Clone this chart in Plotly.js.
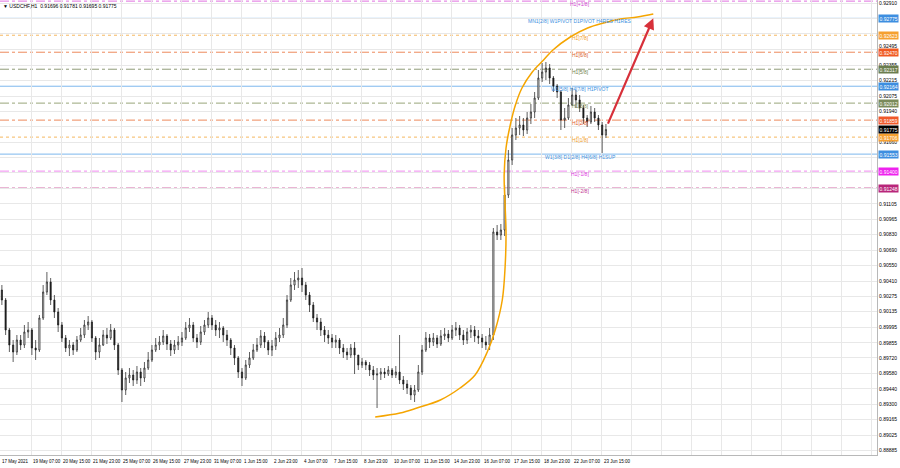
<!DOCTYPE html>
<html><head><meta charset="utf-8">
<script src="https://cdn.plot.ly/plotly-3.0.1.min.js"></script>
<style>html,body{margin:0;padding:0;background:#fff}#chart{width:900px;height:468px}</style>
</head><body><div id="chart"></div>
<script>
// ---- data: USDCHF H1, grouped read-out per 4 hourly bars (bar index 0 = 17 May 22:00) ----
const firstOpen = 0.90330;
const close = [
0.90240,0.89970,0.89835,0.89772,0.89880,0.89835,0.89952,0.89970,0.89808,0.89790,
0.90078,0.90312,0.90402,0.90240,0.90132,0.90015,0.89898,0.89808,0.89835,0.89790,
0.89880,0.89925,0.90015,0.90042,0.89898,0.89772,0.89835,0.89925,0.89898,0.89970,
0.89835,0.89610,0.89430,0.89538,0.89565,0.89520,0.89592,0.89538,0.89628,0.89700,
0.89790,0.89835,0.89862,0.89916,0.89844,0.89790,0.89835,0.89862,0.89898,0.89988,
0.90015,0.89898,0.89862,0.89952,0.90015,0.90078,0.90015,0.89970,0.89988,0.89925,
0.89880,0.89808,0.89718,0.89592,0.89538,0.89655,0.89718,0.89790,0.89835,0.89916,
0.89862,0.89790,0.89826,0.89898,0.89925,0.90015,0.90240,0.90375,0.90420,0.90438,
0.90375,0.90285,0.90195,0.90078,0.90042,0.89970,0.89925,0.89898,0.89862,0.89880,
0.89808,0.89772,0.89745,0.89808,0.89745,0.89655,0.89682,0.89655,0.89610,0.89565,
0.89574,0.89592,0.89574,0.89610,0.89565,0.89592,0.89520,0.89484,0.89448,0.89385,
0.89430,0.89592,0.89790,0.89898,0.89862,0.89898,0.89844,0.89916,0.89934,0.89898,
0.89970,0.89988,0.89925,0.89880,0.89952,0.89970,0.89916,0.89898,0.89862,0.89835,
0.89925,0.90852,0.90825,0.90870,0.91185,0.91500,0.91725,0.91788,0.91815,0.91770,
0.91878,0.91932,0.92058,0.92238,0.92292,0.92328,0.92238,0.92166,0.92112,0.91860,
0.91878,0.91995,0.92085,0.92040,0.91968,0.91878,0.91842,0.91932,0.91878,0.91815,
0.91725,0.91775];
const high = [
0.90375,0.90258,0.89988,0.89880,0.89925,0.89925,0.90015,0.90042,0.89988,0.89880,
0.90105,0.90375,0.90492,0.90438,0.90285,0.90168,0.90042,0.89925,0.89880,0.89862,
0.89916,0.89988,0.90060,0.90096,0.90060,0.89916,0.89898,0.89970,0.89988,0.90024,
0.89988,0.89853,0.89628,0.89592,0.89628,0.89610,0.89646,0.89628,0.89682,0.89772,
0.89835,0.89898,0.89916,0.89970,0.89934,0.89880,0.89880,0.89916,0.89952,0.90042,
0.90078,0.90042,0.89934,0.90006,0.90060,0.90132,0.90105,0.90060,0.90042,0.90006,
0.89970,0.89898,0.89835,0.89736,0.89628,0.89700,0.89772,0.89844,0.89898,0.89970,
0.89952,0.89880,0.89880,0.89952,0.89988,0.90078,0.90285,0.90438,0.90492,0.90510,
0.90528,0.90402,0.90312,0.90222,0.90114,0.90078,0.90006,0.89970,0.89934,0.89925,
0.89898,0.89844,0.89808,0.89844,0.89862,0.89745,0.89718,0.89700,0.89682,0.89646,
0.89628,0.89628,0.89628,0.89646,0.89628,0.89646,0.89925,0.89556,0.89520,0.89475,
0.89475,0.89655,0.89835,0.89952,0.89934,0.89943,0.89925,0.89970,0.89988,0.89970,
0.90015,0.90042,0.90015,0.89970,0.89988,0.90015,0.90006,0.89970,0.89934,0.89916,
0.89988,0.90888,0.90915,0.90924,0.91275,0.91590,0.91788,0.91878,0.91896,0.91878,
0.91932,0.92004,0.92112,0.92310,0.92373,0.92382,0.92364,0.92256,0.92184,0.92130,
0.91968,0.92058,0.92148,0.92130,0.92085,0.91995,0.91905,0.91986,0.91968,0.91905,
0.91842,0.91824];
const low = [
0.90195,0.89925,0.89772,0.89682,0.89745,0.89790,0.89808,0.89898,0.89745,0.89700,
0.89772,0.90060,0.90285,0.90195,0.90078,0.89952,0.89862,0.89772,0.89736,0.89745,
0.89772,0.89862,0.89898,0.89970,0.89862,0.89700,0.89718,0.89826,0.89844,0.89880,
0.89790,0.89565,0.89322,0.89385,0.89493,0.89466,0.89484,0.89466,0.89502,0.89610,
0.89682,0.89772,0.89790,0.89835,0.89790,0.89736,0.89754,0.89790,0.89826,0.89880,
0.89952,0.89862,0.89808,0.89835,0.89925,0.89988,0.89970,0.89916,0.89898,0.89862,
0.89826,0.89745,0.89655,0.89538,0.89466,0.89520,0.89628,0.89700,0.89772,0.89808,
0.89808,0.89745,0.89736,0.89790,0.89862,0.89898,0.89988,0.90222,0.90330,0.90348,
0.90312,0.90240,0.90132,0.90042,0.89970,0.89916,0.89862,0.89844,0.89808,0.89808,
0.89754,0.89718,0.89700,0.89718,0.89574,0.89610,0.89628,0.89610,0.89556,0.89520,
0.89268,0.89520,0.89538,0.89556,0.89538,0.89538,0.89484,0.89430,0.89394,0.89340,
0.89322,0.89412,0.89565,0.89772,0.89808,0.89826,0.89808,0.89826,0.89880,0.89862,
0.89880,0.89916,0.89880,0.89835,0.89844,0.89898,0.89862,0.89844,0.89808,0.89790,
0.89790,0.89880,0.90780,0.90780,0.90816,0.91158,0.91455,0.91680,0.91725,0.91716,
0.91734,0.91824,0.91878,0.92040,0.92202,0.92220,0.92184,0.92112,0.92058,0.91770,
0.91788,0.91860,0.91986,0.91968,0.91932,0.91824,0.91797,0.91824,0.91842,0.91770,
0.91563,0.91698];
const hoursPerBar = 4;

// x axis labels (bar index of each label, hourly)
const xLabels = ['17 May 2021','19 May 07:00','20 May 15:00','21 May 23:00','25 May 07:00','26 May 15:00',
 '27 May 23:00','31 May 07:00','1 Jun 15:00','2 Jun 23:00','4 Jun 07:00','7 Jun 15:00','8 Jun 23:00',
 '10 Jun 07:00','11 Jun 15:00','14 Jun 23:00','16 Jun 07:00','17 Jun 15:00','18 Jun 23:00','22 Jun 07:00','23 Jun 15:00'];
const xLabelIdx = [0,33,65,97,129,161,193,225,257,289,321,353,385,417,449,481,513,545,577,609,641];
const xGridIdx = [33,65,97,129,161,193,225,257,289,321,353,385,417,449,481,513,545,577,609,641,673,705,737,769,801,833,865,897,929];

// price scale (ticks hidden under the level boxes in the reference carry no text)
const yTickVals = [0.92910,0.92770,0.92635,0.92495,0.92355,0.92215,0.92075,0.91940,0.91800,0.91660,
 0.91520,0.91385,0.91245,0.91105,0.90965,0.90830,0.90690,0.90550,0.90410,0.90275,0.90135,
 0.89995,0.89855,0.89720,0.89580,0.89440,0.89300,0.89165,0.89025,0.88885];
const yTickText = ['0.92910','','','','0.92355','0.92215','0.92075','0.91940','','0.91660',
 '','','','0.91105','0.90965','0.90830','0.90690','0.90550','0.90410','0.90275','0.90135',
 '0.89995','0.89855','0.89720','0.89580','0.89440','0.89300','0.89165','0.89025','0.88885'];
const raisedTick = [0.92495, '0.92495'];   // sits just above the 6/8 box

// Murrey levels
const levelValues = [0.92930,0.92775,0.92623,0.92470,0.92317,0.92164,0.92012,0.91859,0.91706,0.91553,0.91400,0.91248];
const levelNames = ['H1[+1/8]','MN1[2/8] W1PIVOT D1PIVOT H4RES H1RES','H1[7/8]','H1[6/8]','H1[5/8]',
 'W1[5/8] H4[7/8] H1PIVOT','H1[3/8]','H1[2/8]','H1[1/8]','W1[3/8] D1[2/8] H4[6/8] H1SUP','H1[-1/8]','H1[-2/8]'];
const levelPriceText = ['','0.92775','0.92623','0.92470','0.92317','0.92164','0.92012','0.91859','0.91706','0.91553','0.91400','0.91248'];
const currentPrice = 0.91775;
const titleText = 'USDCHF,H1&nbsp;&nbsp;0.91696 0.91781 0.91695 0.91775';

// hand-drawn analysis (bar index, price)
const curveIdx = [399.5,426,444,469,490,506,519,527.5,535,538,539,538,537,539,543.5,549,556,567,579,589,607.5,626,643,661,679,696];
const curvePrice = [0.89187,0.89223,0.89268,0.89340,0.89448,0.89565,0.89772,0.89970,0.90240,0.90537,0.90843,0.91095,
 0.91365,0.91608,0.91815,0.91995,0.92148,0.92292,0.92400,0.92490,0.92607,0.92688,0.92733,0.92769,0.92787,0.92814];
const arrowFrom = [647, 0.91814];
const arrowTo = [696, 0.92775];

// ---- styles ----
const FONT = 'Liberation Sans, Arial, sans-serif';
const lineColors = ['#e070e0','#7db8ee','#f5b860','#ee8a5c','#8f9c78','#7db8ee','#98a67a','#ee8a5c','#f5b860','#7db8ee','#f08af0','#d46aa8'];
const lineDash = ['dashdot','solid','dot','dashdot','dashdot','solid','dashdot','dashdot','dot','solid','dashdot','dashdot'];
const textColors = ['#d040d0','#3c8fe0','#f09a28','#d8602c','#6f7f4e','#3c8fe0','#7d8c55','#e0582a','#f09a28','#3c8fe0','#e030e0','#c03090'];
const boxColors = ['','#3d8ee0','#f5a030','#f05a22','#6b7d4e','#3d8ee0','#7a8a5a','#f0582a','#f5a030','#3d8ee0','#ee22ee','#b8267a'];

const x = close.map((_, k) => hoursPerBar * k + (hoursPerBar - 1) / 2);
const open = [firstOpen].concat(close.slice(0, -1));

const traces = [
  {type:'candlestick', x:x, open:open, high:high, low:low, close:close,
   increasing:{line:{color:'#1a1a1a', width:0.7}, fillcolor:'#ffffff'},
   decreasing:{line:{color:'#1a1a1a', width:0.7}, fillcolor:'#1a1a1a'},
   whiskerwidth:0, hoverinfo:'skip', showlegend:false},
  {type:'scatter', mode:'lines', x:curveIdx, y:curvePrice,
   line:{color:'#f5a500', width:1.5, shape:'spline', smoothing:1}, hoverinfo:'skip', showlegend:false}
];

const shapes = levelValues.map((v, i) => ({type:'line', xref:'paper', x0:0, x1:1, yref:'y', y0:v, y1:v,
  line:{color:lineColors[i], width:1, dash:lineDash[i]}, layer:'below'}));

const annotations = [];
levelValues.forEach((v, i) => {
  annotations.push({xref:'x', yref:'y', x:618, y:v, text:levelNames[i], showarrow:false,
    xanchor:'center', yanchor:'middle', yshift:-3, font:{family:FONT, size:5, color:textColors[i]}});
  if (levelPriceText[i]) annotations.push({xref:'paper', yref:'y', x:1, y:v, text:levelPriceText[i], showarrow:false,
    xanchor:'left', yanchor:'middle', xshift:1, bgcolor:boxColors[i], borderpad:0.5,
    font:{family:FONT, size:5, color:'#ffffff'}});
});
annotations.push({xref:'paper', yref:'y', x:1, y:raisedTick[0], text:raisedTick[1], showarrow:false,
  xanchor:'left', yanchor:'bottom', xshift:1, yshift:-1, borderpad:0, font:{family:FONT, size:5, color:'#000000'}});
annotations.push({xref:'paper', yref:'y', x:1, y:currentPrice, text:'0.91775', showarrow:false,
  xanchor:'left', yanchor:'middle', xshift:1, bgcolor:'#000000', borderpad:0.5, font:{family:FONT, size:5, color:'#ffffff'}});
xLabels.forEach((t, i) => annotations.push({xref:'x', yref:'paper', x:xLabelIdx[i], y:0, text:t, showarrow:false,
  xanchor:'left', yanchor:'top', yshift:-2, font:{family:FONT, size:4.5, color:'#000000'}}));
annotations.push({xref:'paper', yref:'paper', x:0, y:1, text:'▼ ' + titleText, showarrow:false,
  xanchor:'left', yanchor:'top', xshift:1, yshift:-1, font:{family:FONT, size:5, color:'#000000'}});
annotations.push({xref:'x', yref:'y', axref:'x', ayref:'y', x:arrowTo[0], y:arrowTo[1], ax:arrowFrom[0], ay:arrowFrom[1],
  text:'', showarrow:true, arrowhead:2, arrowsize:1, arrowwidth:2.2, arrowcolor:'#d7303a'});

const layout = {
  width:900, height:468, margin:{l:0, r:23, t:0, b:13, pad:0},
  paper_bgcolor:'#ffffff', plot_bgcolor:'#ffffff', showlegend:false, boxgap:0.55,
  xaxis:{range:[-0.5, 934.5], rangeslider:{visible:false}, tickmode:'array', tickvals:xGridIdx,
    showticklabels:false, showgrid:true, gridcolor:'#e8e8e8', gridwidth:1, zeroline:false,
    showline:true, linecolor:'#b8b8b8', mirror:true, ticks:''},
  yaxis:{range:[0.88845, 0.92940], side:'right', tickmode:'array', tickvals:yTickVals, ticktext:yTickText,
    tickfont:{family:FONT, size:5, color:'#000000'}, showgrid:true, gridcolor:'#e8e8e8', gridwidth:1,
    zeroline:false, showline:true, linecolor:'#b8b8b8', mirror:true, ticks:''},
  shapes:shapes, annotations:annotations
};
Plotly.newPlot('chart', traces, layout, {staticPlot:true, displayModeBar:false});
</script></body></html>
